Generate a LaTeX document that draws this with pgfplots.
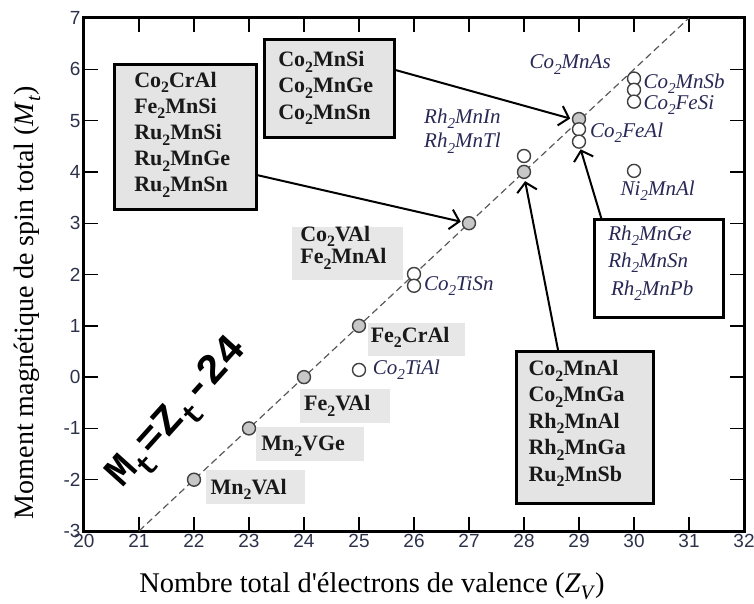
\documentclass[border=0pt]{standalone}
\usepackage{pgfplots}
\pgfplotsset{compat=1.18}
\usepackage{fontspec}
\setmainfont{Liberation Serif}
\setsansfont{Liberation Sans}
\newfontfamily\formfont{Liberation Mono}
\newfontfamily\rawserif[Ligatures=TeXOff]{Liberation Serif}
\usepackage{graphicx}
\usetikzlibrary{arrows.meta}
\definecolor{tickc}{RGB}{45,50,75}
\definecolor{itc}{RGB}{40,40,85}
\definecolor{boxfill}{RGB}{228,228,228}
\definecolor{bgfill}{RGB}{231,231,231}
\newcommand\sub[1]{\raisebox{-0.55ex}{\scalebox{0.72}{#1}}}
\begin{document}
\begin{tikzpicture}
\begin{axis}[
  scale only axis, width=660pt, height=513pt,
  xmin=20, xmax=32, ymin=-3, ymax=7,
  xtick={20,...,32}, ytick={-3,...,7},
  tick align=inside, major tick length=14pt,
  tick style={line width=1.4pt, black},
  axis line style={line width=3pt},
  tick label style={font=\fontsize{19}{19}\selectfont\sffamily, text=tickc},
  /pgf/number format/assume math mode=true,
  clip=false,
  xlabel={Nombre total d{\rawserif'}électrons de valence (\textit{Z}\sub{\textit{V}})},
  ylabel={Moment magnétique de spin total (\textit{M}\sub{\textit{t}})},
  every axis x label/.style={at={(rel axis cs:0.5,0)}, anchor=center, xshift=-42pt, yshift=-55pt, font=\fontsize{28.5}{28.5}\selectfont},
  every axis y label/.style={at={(rel axis cs:0,0.445)}, rotate=90, anchor=center, yshift=57pt, font=\fontsize{28}{28}\selectfont},
]
\coordinate (bl) at (rel axis cs:0,0);
\coordinate (tr) at (rel axis cs:1,1);
% dashed line M = Z - 24
\addplot[dash pattern=on 7pt off 4pt, line width=1.2pt, color=black!65] coordinates {(21,-3) (31,7)};

% gray background labels
\fill[bgfill] (axis cs:22.22,-2.47) rectangle (axis cs:24.02,-1.82);
\fill[bgfill] (axis cs:23.12,-1.63) rectangle (axis cs:25.09,-0.98);
\fill[bgfill] (axis cs:23.93,-0.89) rectangle (axis cs:25.56,-0.23);
\fill[bgfill] (axis cs:25.16,0.41) rectangle (axis cs:26.93,1.05);
\fill[bgfill] (axis cs:23.78,1.89) rectangle (axis cs:25.8,2.93);

% framed boxes
\draw[line width=3pt, fill=boxfill] (axis cs:20.56,3.26) rectangle (axis cs:23.14,6.10);
\draw[line width=3pt, fill=boxfill] (axis cs:23.29,4.67) rectangle (axis cs:25.65,6.58);
\draw[line width=3pt, fill=boxfill] (axis cs:27.87,-2.46) rectangle (axis cs:30.35,0.50);
\draw[line width=3pt, fill=white] (axis cs:29.29,1.17) rectangle (axis cs:31.63,3.08);

% arrows
\begin{scope}[line width=2pt, -{Straight Barb[length=9pt,width=20pt,line width=2pt]}]
\draw (axis cs:25.65,5.99) -- (axis cs:28.84,5.04);
\draw (axis cs:23.14,3.94) -- (axis cs:26.85,3.03);
\draw (axis cs:29.41,3.08) -- (axis cs:29.03,4.44);
\draw (axis cs:28.62,0.52) -- (axis cs:28.02,3.82);
\end{scope}

% points
\addplot[only marks, mark=*, mark size=6.5pt, mark options={line width=1.4pt, draw=black!75, fill=black!22}]
  coordinates {(22,-2) (23,-1) (24,0) (25,1) (27,3) (28,4) (29,5.03)};
\addplot[only marks, mark=*, mark size=6.5pt, mark options={line width=1.4pt, draw=black!75, fill=white}]
  coordinates {(25,0.14) (26,2.01) (26,1.78) (28,4.31) (29,4.83) (29,4.59) (30,5.82) (30,5.60) (30,5.37) (30,4.02)};

% bold labels
\begin{scope}[every node/.style={anchor=base west, inner sep=0pt, font=\fontsize{22}{22}\selectfont\bfseries, text=black!90}]
\node at (axis cs:20.91,5.65) {Co\sub{2}CrAl};
\node at (axis cs:20.91,5.14) {Fe\sub{2}MnSi};
\node at (axis cs:20.91,4.63) {Ru\sub{2}MnSi};
\node at (axis cs:20.91,4.12) {Ru\sub{2}MnGe};
\node at (axis cs:20.91,3.61) {Ru\sub{2}MnSn};
\node at (axis cs:23.53,6.05) {Co\sub{2}MnSi};
\node at (axis cs:23.53,5.54) {Co\sub{2}MnGe};
\node at (axis cs:23.53,5.03) {Co\sub{2}MnSn};
\node at (axis cs:28.08,0.03) {Co\sub{2}MnAl};
\node at (axis cs:28.08,-0.485) {Co\sub{2}MnGa};
\node at (axis cs:28.08,-1.00) {Rh\sub{2}MnAl};
\node at (axis cs:28.08,-1.515) {Rh\sub{2}MnGa};
\node at (axis cs:28.08,-2.03) {Ru\sub{2}MnSb};
\node at (axis cs:23.93,2.65) {Co\sub{2}VAl};
\node at (axis cs:23.93,2.21) {Fe\sub{2}MnAl};
\node at (axis cs:25.21,0.68) {Fe\sub{2}CrAl};
\node at (axis cs:24.00,-0.66) {Fe\sub{2}VAl};
\node at (axis cs:23.22,-1.44) {Mn\sub{2}VGe};
\node at (axis cs:22.30,-2.28) {Mn\sub{2}VAl};
\end{scope}

% italic labels
\begin{scope}[every node/.style={anchor=base west, inner sep=0pt, font=\fontsize{21}{21}\selectfont\itshape, text=itc}]
\node[anchor=base] at (axis cs:28.84,6.01) {Co\sub{2}MnAs};
\node[anchor=base] at (axis cs:26.88,4.95) {Rh\sub{2}MnIn};
\node[anchor=base] at (axis cs:26.88,4.47) {Rh\sub{2}MnTl};
\node at (axis cs:30.17,5.63) {Co\sub{2}MnSb};
\node at (axis cs:30.17,5.22) {Co\sub{2}FeSi};
\node at (axis cs:29.20,4.68) {Co\sub{2}FeAl};
\node[anchor=base] at (axis cs:30.43,3.54) {Ni\sub{2}MnAl};
\node at (axis cs:26.18,1.69) {Co\sub{2}TiSn};
\node at (axis cs:25.25,0.06) {Co\sub{2}TiAl};
\node at (axis cs:29.53,2.66) {Rh\sub{2}MnGe};
\node at (axis cs:29.53,2.14) {Rh\sub{2}MnSn};
\node at (axis cs:29.58,1.59) {Rh\sub{2}MnPb};
\end{scope}

% formula
\node[rotate=48, font=\fontsize{42}{42}\selectfont\formfont\bfseries] at (axis cs:21.73,-0.72) {M\sub{t}=Z\sub{t}-24};
\end{axis}
\pgfresetboundingbox
\path[use as bounding box] ([shift={(-84pt,-72pt)}]bl) rectangle ([shift={(10pt,18pt)}]tr);
\end{tikzpicture}
\end{document}
